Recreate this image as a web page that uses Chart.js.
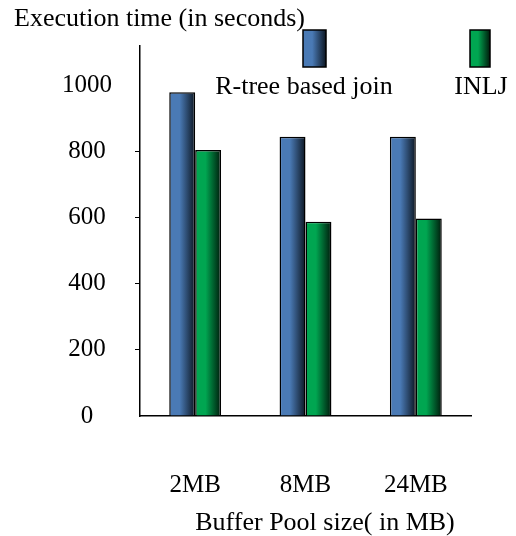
<!DOCTYPE html>
<html>
<head>
<meta charset="utf-8">
<script src="https://cdn.jsdelivr.net/npm/chart.js@4.4.1/dist/chart.umd.min.js"></script>
<style>
  html, body { margin: 0; padding: 0; background: #fff; }
  #wrap { width: 516px; height: 536px; }
</style>
</head>
<body>
<div id="wrap"><canvas id="timeChart"></canvas></div>
<script>
const bufferSizes = ['2MB', '8MB', '24MB'];
const rtreeTimes = [980, 845, 845];
const inljTimes = [805, 588, 598];
const yTicks = [0, 200, 400, 600, 800, 1000];

const serif = "'Times New Roman', 'Liberation Serif', serif";

// light colour on the left of the bar, fading to near black on the right
function shade(light, dark) {
  return function (ctx) {
    const el = ctx.element;
    if (!el || !el.width) return light;
    const left = el.x - el.width / 2;
    const g = ctx.chart.ctx.createLinearGradient(left, 0, left + el.width, 0);
    g.addColorStop(0, light);
    g.addColorStop(0.4, light);
    g.addColorStop(1, dark);
    return g;
  };
}

function swatch(c, x, y, w, h, light, dark) {
  const g = c.createLinearGradient(x, 0, x + w, 0);
  g.addColorStop(0, light);
  g.addColorStop(0.4, light);
  g.addColorStop(1, dark);
  c.fillStyle = g;
  c.fillRect(x, y, w, h);
  c.strokeStyle = '#000';
  c.lineWidth = 1.5;
  c.strokeRect(x, y, w, h);
}

// axis titles and the legend are laid out like the original figure
const extras = {
  id: 'extras',
  afterDraw(chart) {
    const c = chart.ctx;
    c.save();
    c.fillStyle = '#000';
    c.font = '26px ' + serif;
    c.textBaseline = 'middle';
    c.textAlign = 'left';
    c.fillText('Execution time (in seconds)', 14, 19);

    const ds = chart.data.datasets;
    swatch(c, 303, 30, 23, 37, '#4a7ab5', '#0c1622');
    swatch(c, 470, 30, 20, 37, '#00a651', '#001a0b');
    c.fillStyle = '#000';
    c.textAlign = 'center';
    c.fillText(ds[0].label, 304, 87);
    c.fillText(ds[1].label, 481, 87);

    c.fillText('Buffer Pool size( in MB)', 325, 523);
    c.restore();
  }
};

const timeChart = new Chart(document.getElementById('timeChart'), {
  type: 'bar',
  data: {
    labels: bufferSizes,
    datasets: [{
      label: 'R-tree based join',
      data: rtreeTimes,
      backgroundColor: shade('#4a7ab5', '#0c1622'),
      borderColor: '#000',
      borderWidth: 1.5,
    }, {
      label: 'INLJ',
      data: inljTimes,
      backgroundColor: shade('#00a651', '#001a0b'),
      borderColor: '#000',
      borderWidth: 1.5,
    }],
  },
  options: {
    responsive: true,
    maintainAspectRatio: false,
    animation: false,
    layout: { padding: { top: 46, right: 45, left: 0, bottom: 0 } },
    datasets: {
      bar: { categoryPercentage: 0.47, barPercentage: 1.0 },
    },
    plugins: {
      legend: { display: false },
      tooltip: { enabled: false },
    },
    scales: {
      x: {
        grid: { display: false, drawTicks: false },
        border: { color: '#000', width: 1.5 },
        ticks: { color: '#000', font: { family: serif, size: 25 }, padding: 54 },
        afterFit(scale) { scale.height = 120; },
      },
      y: {
        min: 0,
        max: 1120,
        afterBuildTicks(scale) { scale.ticks = yTicks.map(v => ({ value: v })); },
        grid: {
          drawOnChartArea: false,
          tickLength: 5,
          color: ctx => (ctx.tick && ctx.tick.value > 0 && ctx.tick.value < 1000) ? '#000' : 'rgba(0,0,0,0)',
        },
        border: { color: '#000', width: 1.5 },
        ticks: {
          color: '#000',
          crossAlign: 'center',
          padding: 23,
          font: { family: serif, size: 25 },
          callback: v => String(v),
        },
        afterFit(scale) { scale.width = 140; },
      },
    },
  },
  plugins: [extras],
});

// second pass so the gradients can use the laid-out bar positions
timeChart.update();
</script>
</body>
</html>
